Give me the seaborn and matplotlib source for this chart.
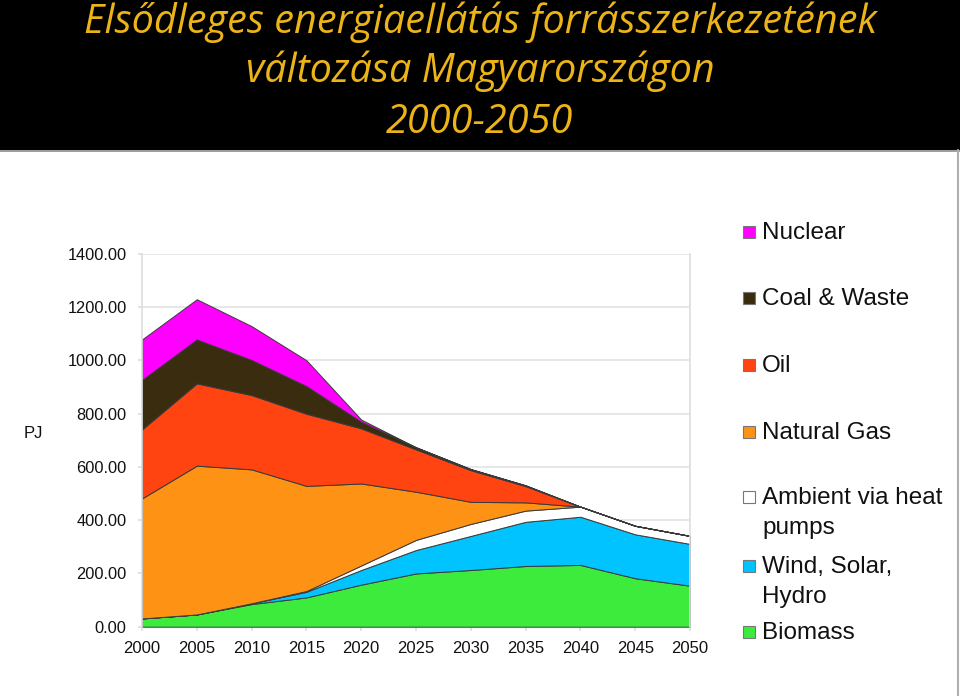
import matplotlib
matplotlib.use("Agg")
import matplotlib.pyplot as plt
from matplotlib.patches import Rectangle
from matplotlib.lines import Line2D
import seaborn as sns
import numpy as np

years = [2000, 2005, 2010, 2015, 2020, 2025, 2030, 2035, 2040, 2045, 2050]
biomass = [31, 46, 85, 110, 158, 200, 213, 228, 232, 182, 154]
wind_solar_hydro = [0, 0, 3, 21, 55, 88, 128, 166, 181, 165, 157]
ambient = [0, 0, 0, 3, 17, 38, 45, 42, 38, 32, 30]
natural_gas = [451, 559, 503, 395, 308, 181, 83, 31, 0, 0, 0]
oil = [259, 309, 279, 271, 207, 159, 119, 61, 0, 0, 0]
coal_waste = [186, 165, 132, 104, 25, 8, 4, 3, 0, 0, 0]
nuclear = [152, 151, 127, 97, 8, 0, 0, 0, 0, 0, 0]

series_names = ["Biomass", "Wind, Solar,\nHydro", "Ambient via heat\npumps",
                "Natural Gas", "Oil", "Coal & Waste", "Nuclear"]
series_colors = ["#3DEB3D", "#00C3FF", "#FFFFFF", "#FD9215", "#FF4411", "#3A2C0E", "#FF00FF"]
yticks = [0, 200, 400, 600, 800, 1000, 1200, 1400]
title_lines = ["Elsődleges energiaellátás forrásszerkezetének",
               "változása Magyarországon", "2000-2050"]
unit_label = "PJ"

sns.set_theme(style="white")
plt.rcParams["font.family"] = ["Liberation Sans", "DejaVu Sans"]

W, H = 960, 696
fig = plt.figure(figsize=(W / 100, H / 100), dpi=100)
fig.patch.set_facecolor("white")

def fx(px):
    return px / W

def fy(py):
    return 1 - py / H

# black title band
fig.patches.append(Rectangle((0, fy(150)), 1, 1 - fy(150), transform=fig.transFigure,
                             facecolor="black", edgecolor="none", zorder=0))
fig.add_artist(Line2D([0, 1], [fy(150.5), fy(150.5)], color="#8a8a8a", lw=1.2))
fig.add_artist(Line2D([fx(958), fx(958)], [0, fy(150)], color="#b0b0b0", lw=1.5))

for txt, py in zip(title_lines, [22, 71, 123]):
    fig.text(0.5, fy(py), txt, ha="center", va="center", color="#EDB418",
             fontsize=28.5, family=["Open Sans", "DejaVu Sans"], style="italic")

ax = fig.add_axes([fx(142), fy(626.7), fx(690) - fx(142), fy(254) - fy(626.7)])
data = [biomass, wind_solar_hydro, ambient, natural_gas, oil, coal_waste, nuclear]
ax.stackplot(years, *data, colors=series_colors, edgecolor="#3a3a3a", linewidth=0.7, zorder=2)

ax.set_xlim(years[0], years[-1])
ax.set_ylim(yticks[0], yticks[-1])
ax.set_xticks(years)
ax.set_xticklabels([str(y) for y in years])
ax.set_yticks(yticks)
ax.set_yticklabels([f"{v:.2f}" for v in yticks])
ax.grid(axis="y", color="#e3e3e3", lw=1.2, zorder=0)
ax.set_axisbelow(True)
for side in ["top", "bottom"]:
    ax.spines[side].set_visible(False)
for side in ["left", "right"]:
    ax.spines[side].set_color("#dedede")
    ax.spines[side].set_linewidth(1.2)
ax.tick_params(axis="y", left=True, length=3, color="#dedede", pad=8, labelsize=11.8,
               labelcolor="#111111")
ax.tick_params(axis="x", bottom=True, length=3, color="#dedede", pad=7, labelsize=12,
               labelcolor="#111111")

fig.text(fx(33), fy(433), unit_label, ha="center", va="center", fontsize=12, color="#111111")

# legend (top to bottom)
leg_y = [232, 298, 365, 432, 497, 566, 632]
for name, color, py in zip(series_names[::-1], series_colors[::-1], leg_y):
    fig.patches.append(Rectangle((fx(743), fy(py + 6)), fx(12), fy(0) - fy(12),
                                 transform=fig.transFigure, facecolor=color,
                                 edgecolor="#777777", lw=0.8))
    fig.text(fx(762), fy(py - 10), name, ha="left", va="top", fontsize=17.5,
             color="#111111", linespacing=1.45)

fig.savefig("out.png", dpi=100)
